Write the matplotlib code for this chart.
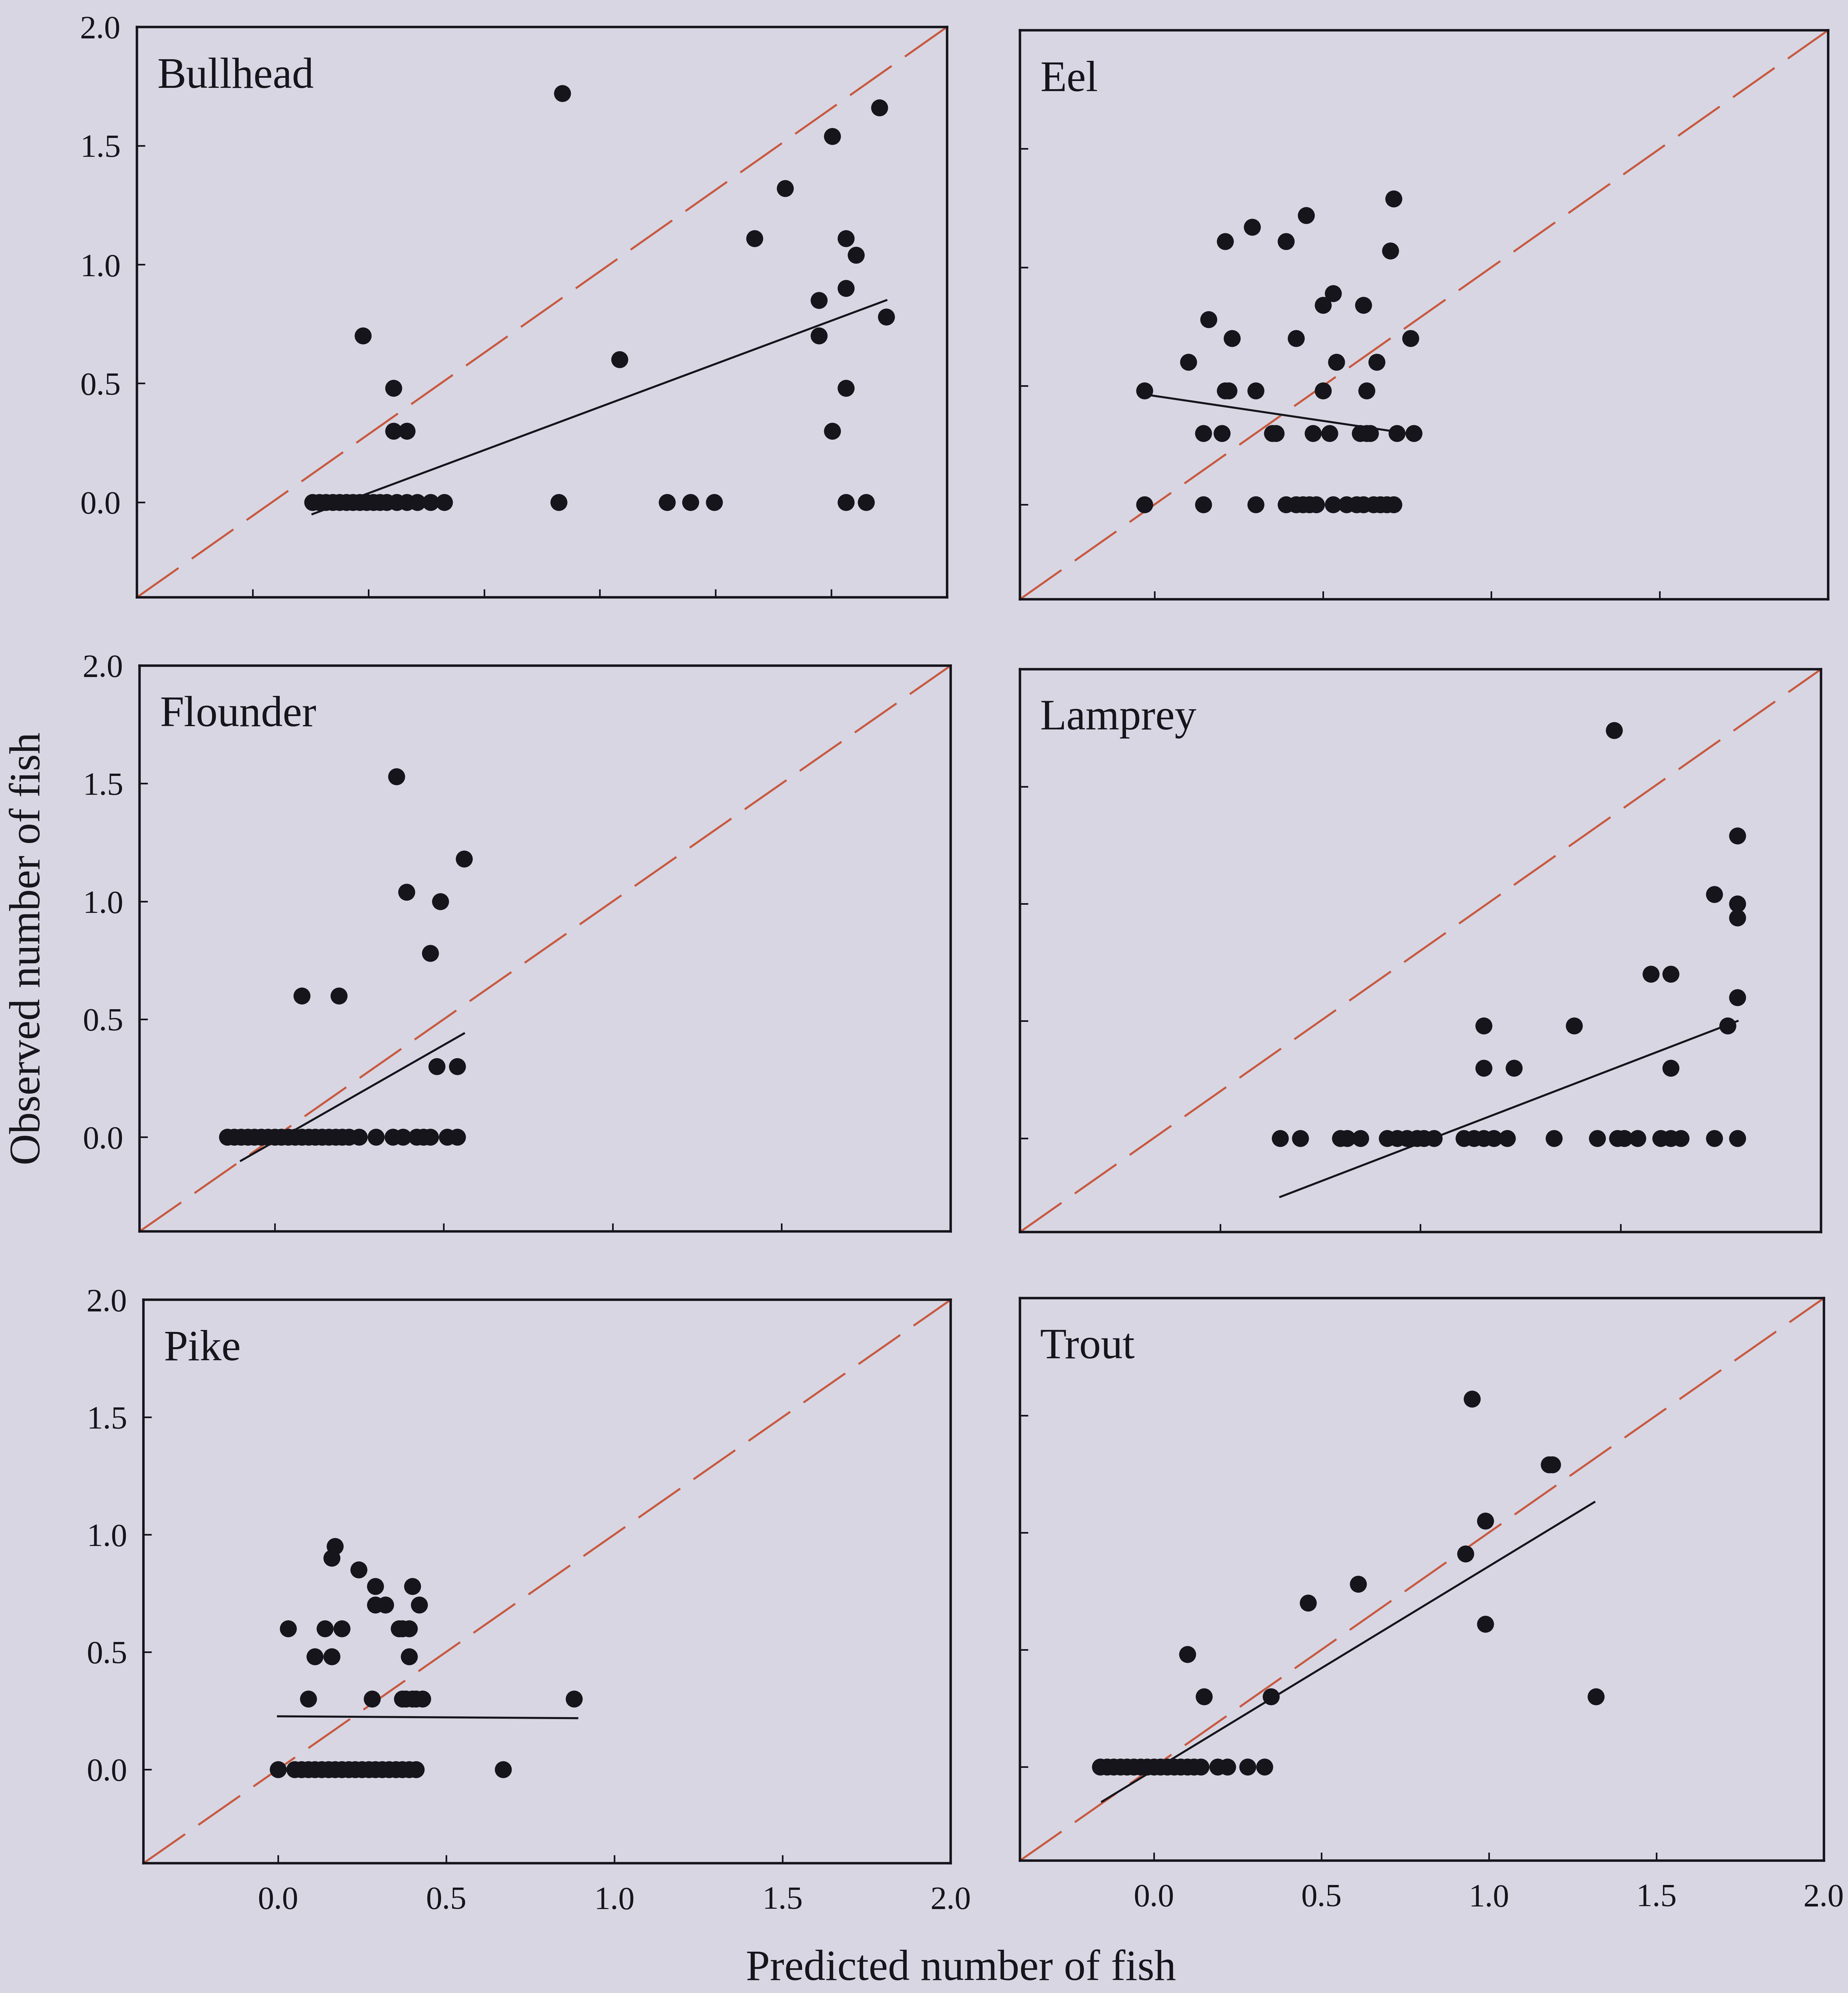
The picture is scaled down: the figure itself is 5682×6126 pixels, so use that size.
import matplotlib.pyplot as plt

plt.rcParams['font.family'] = ['Liberation Serif', 'DejaVu Serif']

paper = '#d7d6e2'
ink = '#16151c'
one_to_one = '#c9583f'

species = ['Bullhead', 'Eel', 'Flounder', 'Lamprey', 'Pike', 'Trout']

# log10(n + 1) counts: predicted where nothing was caught, then the catches
bullhead_zero = [0.12, 0.14, 0.16, 0.18, 0.20, 0.22, 0.24, 0.26, 0.28, 0.30, 0.32, 0.34,
                 0.37, 0.40, 0.43, 0.47, 0.51, 0.85, 1.17, 1.24, 1.31, 1.70, 1.76]
bullhead_x = [0.27, 0.36, 0.36, 0.40, 0.86, 1.03, 1.43, 1.52, 1.62, 1.62, 1.66, 1.66,
              1.70, 1.70, 1.70, 1.73, 1.80, 1.82]
bullhead_y = [0.70, 0.48, 0.30, 0.30, 1.72, 0.60, 1.11, 1.32, 0.85, 0.70, 1.54, 0.30,
              1.11, 0.90, 0.48, 1.04, 1.66, 0.78]
bullhead_fit_x = [0.12, 1.82]
bullhead_fit_y = [-0.05, 0.85]

eel_zero = [-0.03, 0.145, 0.30, 0.39, 0.42, 0.44, 0.46, 0.48, 0.53, 0.57, 0.60, 0.62,
            0.65, 0.67, 0.69, 0.71]
eel_x = [0.71, 0.45, 0.29, 0.21, 0.39, 0.70, 0.53, 0.50, 0.62, 0.16, 0.23, 0.42, 0.76,
         0.10, 0.54, 0.66, -0.03, 0.21, 0.22, 0.30, 0.50, 0.63,
         0.145, 0.20, 0.35, 0.36, 0.47, 0.52, 0.61, 0.63, 0.64, 0.72, 0.77]
eel_y = [1.29, 1.22, 1.17, 1.11, 1.11, 1.07, 0.89, 0.84, 0.84, 0.78, 0.70, 0.70, 0.70,
         0.60, 0.60, 0.60, 0.48, 0.48, 0.48, 0.48, 0.48, 0.48,
         0.30, 0.30, 0.30, 0.30, 0.30, 0.30, 0.30, 0.30, 0.30, 0.30, 0.30]
eel_fit_x = [-0.01, 0.75]
eel_fit_y = [0.46, 0.30]

flounder_zero = [-0.14, -0.12, -0.10, -0.08, -0.06, -0.04, -0.02, 0.0, 0.02, 0.04, 0.06,
                 0.08, 0.10, 0.12, 0.14, 0.16, 0.18, 0.20, 0.22, 0.25, 0.30, 0.35, 0.38,
                 0.42, 0.44, 0.46, 0.51, 0.54]
flounder_x = [0.36, 0.56, 0.39, 0.49, 0.46, 0.08, 0.19, 0.48, 0.54]
flounder_y = [1.53, 1.18, 1.04, 1.00, 0.78, 0.60, 0.60, 0.30, 0.30]
flounder_fit_x = [-0.10, 0.56]
flounder_fit_y = [-0.10, 0.44]

lamprey_zero = [0.38, 0.44, 0.56, 0.58, 0.62, 0.70, 0.73, 0.76, 0.79, 0.81, 0.84, 0.93,
                0.96, 0.99, 1.02, 1.06, 1.20, 1.33, 1.39, 1.41, 1.45, 1.52, 1.55, 1.58,
                1.68, 1.75]
lamprey_x = [1.38, 1.75, 1.68, 1.75, 1.75, 1.49, 1.55, 1.75, 0.99, 1.26, 1.72, 0.99,
             1.08, 1.55]
lamprey_y = [1.74, 1.29, 1.04, 1.00, 0.94, 0.70, 0.70, 0.60, 0.48, 0.48, 0.48, 0.30,
             0.30, 0.30]
lamprey_fit_x = [0.38, 1.75]
lamprey_fit_y = [-0.25, 0.50]

pike_zero = [0.0, 0.05, 0.07, 0.09, 0.11, 0.13, 0.15, 0.17, 0.19, 0.21, 0.23, 0.25, 0.27,
             0.29, 0.31, 0.33, 0.35, 0.37, 0.39, 0.41, 0.67]
pike_x = [0.17, 0.16, 0.24, 0.29, 0.40, 0.29, 0.32, 0.42, 0.03, 0.14, 0.19, 0.36, 0.37,
          0.39, 0.11, 0.16, 0.39, 0.09, 0.28, 0.37, 0.38, 0.40, 0.41, 0.43, 0.88]
pike_y = [0.95, 0.90, 0.85, 0.78, 0.78, 0.70, 0.70, 0.70, 0.60, 0.60, 0.60, 0.60, 0.60,
          0.60, 0.48, 0.48, 0.48, 0.30, 0.30, 0.30, 0.30, 0.30, 0.30, 0.30, 0.30]
pike_fit_x = [0.0, 0.89]
pike_fit_y = [0.226, 0.218]

trout_zero = [-0.16, -0.14, -0.12, -0.10, -0.08, -0.06, -0.04, -0.02, 0.0, 0.02, 0.04,
              0.06, 0.08, 0.10, 0.12, 0.14, 0.19, 0.22, 0.28, 0.33]
trout_x = [0.95, 1.18, 1.19, 0.99, 0.93, 0.61, 0.46, 0.99, 0.10, 0.15, 0.35, 1.32]
trout_y = [1.57, 1.29, 1.29, 1.05, 0.91, 0.78, 0.70, 0.61, 0.48, 0.30, 0.30, 0.30]
trout_fit_x = [-0.155, 1.315]
trout_fit_y = [-0.148, 1.13]

zeros = [bullhead_zero, eel_zero, flounder_zero, lamprey_zero, pike_zero, trout_zero]
xs = [bullhead_x, eel_x, flounder_x, lamprey_x, pike_x, trout_x]
ys = [bullhead_y, eel_y, flounder_y, lamprey_y, pike_y, trout_y]
fit_xs = [bullhead_fit_x, eel_fit_x, flounder_fit_x, lamprey_fit_x, pike_fit_x, trout_fit_x]
fit_ys = [bullhead_fit_y, eel_fit_y, flounder_fit_y, lamprey_fit_y, pike_fit_y, trout_fit_y]

# bottom tick marks differ between panels
std_ticks = [0.0, 0.5, 1.0, 1.5]
x_ticks = [[-0.057, 0.286, 0.629, 0.971, 1.314, 1.657], std_ticks, std_ticks,
           [0.2, 0.8, 1.4], std_ticks, std_ticks]
y_ticks = [0.0, 0.5, 1.0, 1.5, 2.0]
label_ticks = [0.0, 0.5, 1.0, 1.5, 2.0]
lims = [-0.4, 2.0]

rects = [
    [0.0741, 0.7003, 0.4384, 0.2862],
    [0.5519, 0.6993, 0.4373, 0.2855],
    [0.0755, 0.3821, 0.4389, 0.2839],
    [0.5519, 0.3818, 0.4335, 0.2824],
    [0.0776, 0.0651, 0.4368, 0.2827],
    [0.5519, 0.0664, 0.4350, 0.2822],
]

fig = plt.figure(figsize=(5682 / 300, 6126 / 300), dpi=300, facecolor=paper)

for i, name in enumerate(species):
    ax = fig.add_axes(rects[i], facecolor=paper)
    px = zeros[i] + xs[i]
    py = [0.0] * len(zeros[i]) + ys[i]

    ax.plot(lims, lims, color=one_to_one, linewidth=1.5, linestyle=(0, (25, 8)), zorder=2)
    ax.plot(px, py, 'o', color=ink, markersize=12.5, markeredgewidth=0, zorder=3)
    ax.plot(fit_xs[i], fit_ys[i], '-', color=ink, linewidth=1.5, zorder=4)

    ax.set_xlim(lims)
    ax.set_ylim(lims)
    for s in ax.spines.values():
        s.set_linewidth(1.8)
        s.set_color(ink)

    ax.tick_params(direction='in', length=6, width=1.2, colors=ink, labelsize=24)
    ax.tick_params(axis='x', pad=17)
    ax.tick_params(axis='y', pad=12)

    bottom_row = i >= 4
    left_col = i % 2 == 0
    if bottom_row:
        ax.set_xticks(label_ticks)
        ax.set_xticklabels(['%.1f' % t for t in label_ticks])
    else:
        ax.set_xticks(x_ticks[i])
        ax.set_xticklabels([])
    ax.set_yticks(y_ticks)
    if left_col:
        ax.set_yticklabels(['%.1f' % t for t in y_ticks])
    else:
        ax.set_yticklabels([])

    ax.text(0.025, 0.893, name, transform=ax.transAxes, fontsize=32, color=ink,
            ha='left', va='baseline')

fig.text(0.520, 0.002, 'Predicted number of fish', fontsize=32, color=ink,
         ha='center', va='bottom')
fig.text(0.0157, 0.524, 'Observed number of fish', fontsize=32, color=ink,
         ha='center', va='center', rotation=90)

fig.savefig('out.png', dpi=300, facecolor=paper)
